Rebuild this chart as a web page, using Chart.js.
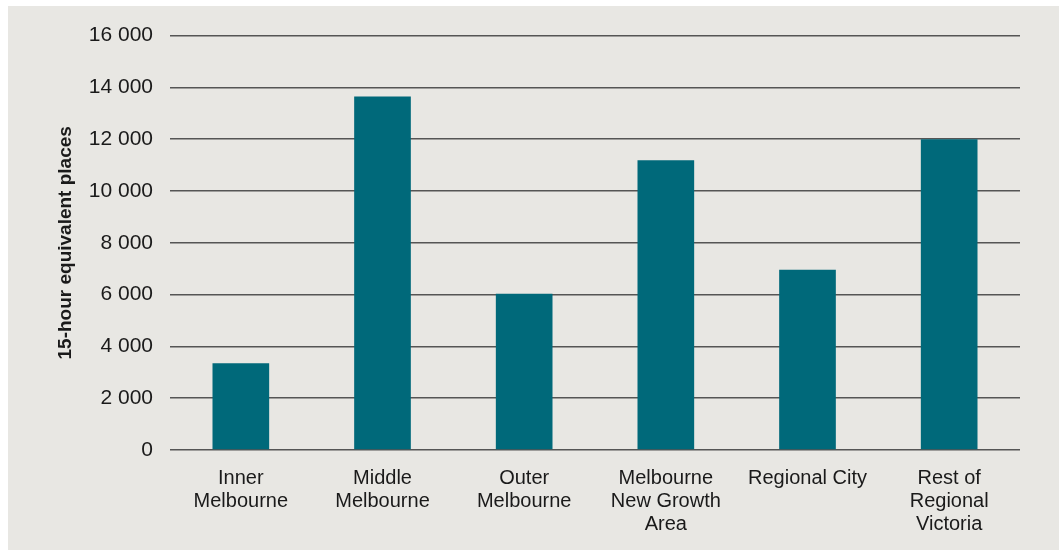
<!DOCTYPE html>
<html>
<head>
<meta charset="utf-8">
<script src="https://cdn.jsdelivr.net/npm/chart.js@4.4.0/dist/chart.umd.min.js"></script>
<style>
    html, body { margin: 0; padding: 0; background: #ffffff; }
    #panel {
        position: absolute; left: 8px; top: 6px;
        width: 1051px; height: 544px;
        background: #e8e7e3;
    }
</style>
</head>
<body>
<div id="panel"><canvas id="placesChart"></canvas></div>
<script>
const regions = [
    ['Inner', 'Melbourne'],
    ['Middle', 'Melbourne'],
    ['Outer', 'Melbourne'],
    ['Melbourne', 'New Growth', 'Area'],
    'Regional City',
    ['Rest of', 'Regional', 'Victoria']
];
const places = [3350, 13650, 6030, 11190, 6960, 12000];
const yTicks = [0, 2000, 4000, 6000, 8000, 10000, 12000, 14000, 16000];

const teal = '#00697a';
const textColor = '#1a1a1a';

function formatThousands(v) {
    return String(v).replace(/\B(?=(\d{3})+(?!\d))/g, ' ');
}

const ctx = document.getElementById('placesChart').getContext('2d');
new Chart(ctx, {
    type: 'bar',
    data: {
        labels: regions,
        datasets: [{
            label: '15-hour equivalent places',
            data: places,
            backgroundColor: teal,
            borderWidth: 0,
            barPercentage: 0.4,
            categoryPercentage: 1
        }]
    },
    options: {
        responsive: true,
        maintainAspectRatio: false,
        animation: false,
        layout: {
            padding: { left: 42, top: 28, right: 39, bottom: 0 }
        },
        plugins: {
            legend: { display: false },
            tooltip: { enabled: false }
        },
        scales: {
            x: {
                grid: { display: false },
                border: { display: false },
                ticks: {
                    color: textColor,
                    font: { family: 'Liberation Sans, Arial, sans-serif', size: 20, lineHeight: 1.15 },
                    padding: 9,
                    maxRotation: 0,
                    autoSkip: false
                },
                afterFit: function (scale) { scale.height = 100; }
            },
            y: {
                min: 0,
                max: 16000,
                afterBuildTicks: function (scale) {
                    scale.ticks = yTicks.map(v => ({ value: v }));
                },
                afterFit: function (scale) { scale.width = 120; },
                grid: {
                    color: '#555555',
                    lineWidth: 1.5,
                    drawTicks: false
                },
                border: { display: false },
                ticks: {
                    color: textColor,
                    font: { family: 'Liberation Sans, Arial, sans-serif', size: 21 },
                    padding: 17,
                    callback: function (value) { return formatThousands(value); }
                },
                title: {
                    display: true,
                    text: '15-hour equivalent places',
                    color: textColor,
                    font: { family: 'Liberation Sans, Arial, sans-serif', size: 19, weight: 'bold' },
                    padding: 4
                }
            }
        }
    }
});
</script>
</body>
</html>
